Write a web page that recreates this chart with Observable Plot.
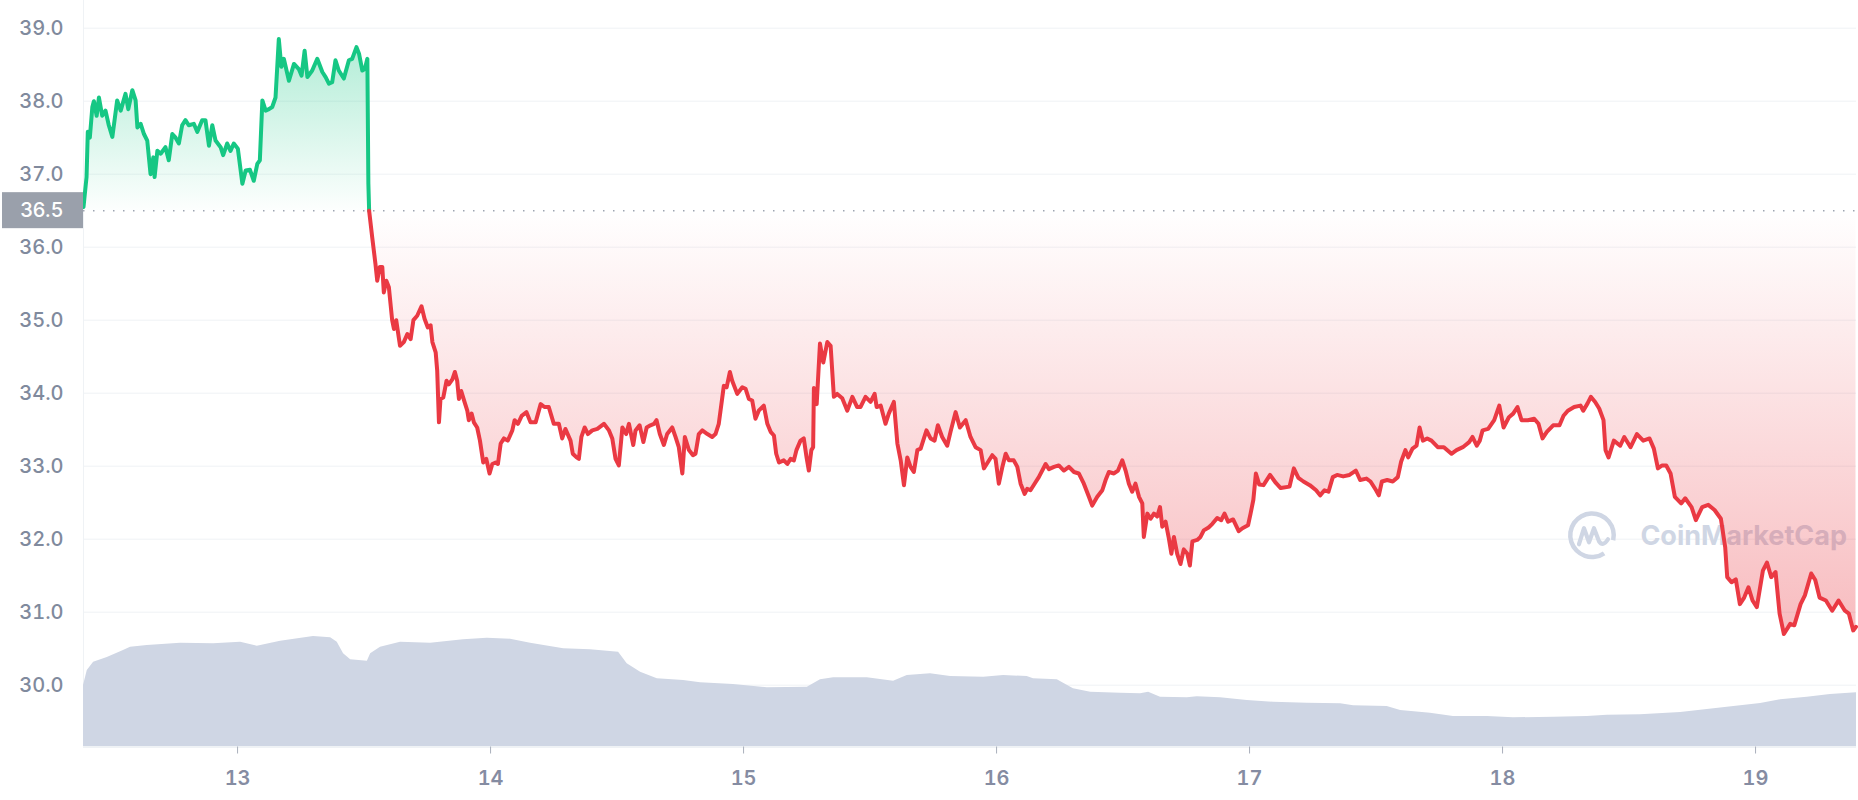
<!DOCTYPE html>
<html><head><meta charset="utf-8">
<script src="https://cdn.jsdelivr.net/npm/d3@7"></script>
<script src="https://cdn.jsdelivr.net/npm/@observablehq/plot@0.6"></script>
<style>
html,body{margin:0;padding:0;background:#fff;}
#chart{position:relative;width:1858px;height:800px;overflow:hidden;}
#chart svg{position:absolute;left:0;top:0;}
</style></head><body><div id="chart"></div>
<script>
// [day of month (Jan 2022, fractional), price]
const pricePoints = [
[12.391,36.55],[12.403,36.96],[12.408,37.58],[12.416,37.50],[12.426,37.92],[12.432,38.00],[12.443,37.80],[12.452,38.05],[12.465,37.80],[12.478,37.87],[12.491,37.67],[12.505,37.51],[12.524,38.01],[12.538,37.87],[12.557,38.10],[12.568,37.89],[12.584,38.15],[12.597,38.01],[12.604,37.64],[12.617,37.69],[12.630,37.55],[12.643,37.46],[12.656,37.00],[12.667,37.23],[12.672,36.96],[12.683,37.32],[12.696,37.28],[12.715,37.37],[12.728,37.19],[12.742,37.55],[12.755,37.50],[12.768,37.42],[12.781,37.67],[12.794,37.74],[12.807,37.67],[12.827,37.69],[12.841,37.58],[12.860,37.74],[12.873,37.74],[12.887,37.39],[12.900,37.67],[12.913,37.46],[12.933,37.37],[12.943,37.26],[12.959,37.42],[12.972,37.32],[12.985,37.42],[13.001,37.35],[13.019,36.87],[13.032,37.05],[13.049,37.06],[13.064,36.91],[13.078,37.14],[13.088,37.19],[13.098,38.01],[13.111,37.87],[13.124,37.89],[13.137,37.92],[13.150,38.05],[13.163,38.85],[13.173,38.47],[13.183,38.58],[13.203,38.28],[13.223,38.51],[13.242,38.44],[13.253,38.35],[13.265,38.69],[13.276,38.33],[13.295,38.42],[13.315,38.58],[13.335,38.40],[13.348,38.33],[13.361,38.24],[13.374,38.26],[13.387,38.56],[13.400,38.42],[13.420,38.31],[13.440,38.56],[13.453,38.58],[13.470,38.74],[13.480,38.65],[13.493,38.42],[13.503,38.44],[13.513,38.58],[13.517,36.87],[13.520,36.50],
[13.532,36.14],[13.545,35.77],[13.552,35.54],[13.562,35.73],[13.572,35.73],[13.578,35.38],[13.588,35.54],[13.598,35.45],[13.611,35.00],[13.618,34.88],[13.627,35.00],[13.642,34.65],[13.657,34.70],[13.671,34.81],[13.684,34.74],[13.695,35.00],[13.710,35.06],[13.727,35.19],[13.739,35.02],[13.752,34.90],[13.763,34.93],[13.770,34.70],[13.783,34.56],[13.789,34.31],[13.796,33.60],[13.802,33.92],[13.813,33.94],[13.826,34.17],[13.835,34.12],[13.849,34.19],[13.859,34.29],[13.868,34.17],[13.875,33.92],[13.884,34.03],[13.897,33.88],[13.908,33.76],[13.914,33.63],[13.925,33.72],[13.934,33.60],[13.947,33.53],[13.958,33.35],[13.971,33.05],[13.983,33.10],[13.996,32.90],[14.007,33.03],[14.020,33.05],[14.029,33.03],[14.040,33.31],[14.053,33.38],[14.068,33.35],[14.086,33.49],[14.095,33.63],[14.108,33.58],[14.123,33.69],[14.142,33.74],[14.158,33.60],[14.178,33.60],[14.198,33.85],[14.213,33.81],[14.230,33.81],[14.250,33.58],[14.270,33.58],[14.283,33.38],[14.296,33.51],[14.316,33.35],[14.325,33.17],[14.340,33.12],[14.349,33.10],[14.359,33.40],[14.372,33.53],[14.385,33.44],[14.402,33.49],[14.422,33.51],[14.448,33.58],[14.468,33.49],[14.481,33.38],[14.494,33.10],[14.507,33.01],[14.521,33.53],[14.536,33.44],[14.547,33.58],[14.564,33.29],[14.573,33.49],[14.589,33.56],[14.604,33.33],[14.617,33.53],[14.632,33.56],[14.646,33.58],[14.656,33.63],[14.669,33.44],[14.685,33.29],[14.698,33.44],[14.718,33.53],[14.731,33.40],[14.744,33.26],[14.758,32.90],[14.768,33.40],[14.784,33.22],[14.800,33.15],[14.810,33.17],[14.823,33.44],[14.837,33.49],[14.857,33.44],[14.876,33.40],[14.889,33.44],[14.902,33.58],[14.922,34.10],[14.933,34.08],[14.946,34.29],[14.955,34.17],[14.975,33.99],[14.995,34.08],[15.008,34.06],[15.021,33.92],[15.034,33.90],[15.047,33.65],[15.060,33.76],[15.080,33.83],[15.094,33.58],[15.107,33.47],[15.120,33.42],[15.129,33.17],[15.140,33.05],[15.159,33.08],[15.173,33.03],[15.186,33.10],[15.199,33.08],[15.209,33.22],[15.225,33.35],[15.238,33.38],[15.249,33.12],[15.258,32.94],[15.268,33.22],[15.275,33.26],[15.278,34.07],[15.289,33.85],[15.302,34.68],[15.315,34.42],[15.331,34.70],[15.344,34.65],[15.357,33.95],[15.370,33.99],[15.390,33.93],[15.410,33.76],[15.430,33.95],[15.449,33.81],[15.462,33.81],[15.482,33.95],[15.502,33.88],[15.518,33.99],[15.526,33.81],[15.542,33.83],[15.561,33.58],[15.574,33.72],[15.594,33.88],[15.608,33.31],[15.621,33.08],[15.634,32.74],[15.647,33.12],[15.660,32.99],[15.673,32.92],[15.687,33.22],[15.700,33.24],[15.710,33.35],[15.723,33.49],[15.739,33.38],[15.755,33.35],[15.768,33.56],[15.785,33.40],[15.805,33.28],[15.818,33.47],[15.838,33.74],[15.855,33.53],[15.878,33.63],[15.897,33.40],[15.917,33.26],[15.937,33.22],[15.950,32.97],[15.963,33.04],[15.983,33.15],[15.996,33.10],[16.009,32.76],[16.023,32.99],[16.036,33.17],[16.049,33.08],[16.068,33.08],[16.082,32.99],[16.095,32.76],[16.111,32.62],[16.121,32.69],[16.134,32.67],[16.154,32.78],[16.167,32.85],[16.194,33.03],[16.207,32.96],[16.227,32.99],[16.246,33.01],[16.266,32.94],[16.286,32.99],[16.306,32.92],[16.325,32.90],[16.345,32.76],[16.365,32.58],[16.378,32.46],[16.398,32.58],[16.418,32.67],[16.431,32.81],[16.444,32.92],[16.464,32.90],[16.480,32.94],[16.497,33.08],[16.510,32.94],[16.523,32.76],[16.536,32.65],[16.549,32.76],[16.563,32.58],[16.576,32.49],[16.582,32.03],[16.596,32.35],[16.609,32.28],[16.622,32.35],[16.635,32.31],[16.646,32.44],[16.655,32.17],[16.668,32.24],[16.681,32.01],[16.691,31.80],[16.701,32.03],[16.714,31.80],[16.727,31.66],[16.740,31.86],[16.754,31.80],[16.764,31.64],[16.774,31.97],[16.793,31.99],[16.806,32.03],[16.819,32.12],[16.838,32.16],[16.853,32.21],[16.872,32.29],[16.888,32.26],[16.901,32.35],[16.915,32.24],[16.935,32.27],[16.957,32.11],[16.972,32.15],[16.994,32.19],[17.004,32.35],[17.015,32.54],[17.025,32.90],[17.038,32.75],[17.055,32.74],[17.081,32.88],[17.104,32.77],[17.123,32.70],[17.158,32.72],[17.175,32.97],[17.193,32.84],[17.213,32.79],[17.238,32.74],[17.263,32.67],[17.279,32.60],[17.296,32.67],[17.312,32.65],[17.329,32.85],[17.346,32.88],[17.370,32.86],[17.395,32.88],[17.420,32.94],[17.437,32.81],[17.462,32.83],[17.478,32.79],[17.500,32.67],[17.511,32.60],[17.523,32.79],[17.544,32.81],[17.566,32.79],[17.586,32.85],[17.599,33.06],[17.616,33.22],[17.627,33.12],[17.644,33.24],[17.660,33.28],[17.672,33.53],[17.685,33.35],[17.702,33.38],[17.719,33.35],[17.744,33.26],[17.768,33.26],[17.798,33.17],[17.818,33.22],[17.843,33.26],[17.868,33.33],[17.881,33.40],[17.898,33.28],[17.910,33.35],[17.921,33.49],[17.943,33.51],[17.967,33.63],[17.987,33.83],[18.004,33.53],[18.025,33.67],[18.042,33.72],[18.059,33.81],[18.075,33.63],[18.100,33.63],[18.125,33.65],[18.142,33.58],[18.158,33.38],[18.175,33.47],[18.200,33.56],[18.225,33.56],[18.241,33.69],[18.258,33.76],[18.283,33.81],[18.308,33.83],[18.319,33.76],[18.336,33.86],[18.349,33.95],[18.366,33.88],[18.382,33.79],[18.399,33.63],[18.407,33.22],[18.419,33.12],[18.440,33.35],[18.465,33.28],[18.481,33.40],[18.506,33.26],[18.531,33.44],[18.556,33.35],[18.581,33.38],[18.598,33.24],[18.614,32.97],[18.631,33.01],[18.647,33.01],[18.664,32.90],[18.681,32.58],[18.706,32.49],[18.722,32.56],[18.747,32.44],[18.764,32.26],[18.789,32.44],[18.813,32.47],[18.838,32.40],[18.863,32.28],[18.880,31.89],[18.888,31.48],[18.905,31.41],[18.922,31.45],[18.938,31.11],[18.955,31.20],[18.972,31.34],[18.988,31.16],[19.005,31.07],[19.029,31.57],[19.045,31.68],[19.062,31.48],[19.079,31.55],[19.095,30.98],[19.112,30.70],[19.137,30.84],[19.153,30.82],[19.178,31.11],[19.195,31.23],[19.220,31.53],[19.236,31.44],[19.253,31.20],[19.278,31.16],[19.303,31.02],[19.328,31.16],[19.353,31.02],[19.369,30.98],[19.386,30.75],[19.397,30.80]
];
// [day of month, 24h volume in $M]
const volumePoints = [
[12.391,615],[12.406,765],[12.431,848],[12.485,895],[12.549,965],[12.577,998],[12.643,1015],[12.775,1038],[12.905,1032],[13.012,1048],[13.078,1008],[13.170,1058],[13.300,1105],[13.368,1092],[13.394,1048],[13.419,932],[13.447,872],[13.513,858],[13.526,932],[13.565,998],[13.644,1048],[13.763,1038],[13.893,1072],[13.987,1088],[14.079,1078],[14.158,1038],[14.289,982],[14.395,972],[14.506,948],[14.540,832],[14.593,748],[14.659,682],[14.763,665],[14.830,642],[14.960,625],[15.094,592],[15.252,598],[15.304,672],[15.356,692],[15.489,692],[15.593,658],[15.647,715],[15.739,732],[15.818,705],[15.949,698],[16.028,715],[16.121,705],[16.146,682],[16.240,672],[16.304,582],[16.372,548],[16.490,538],[16.569,532],[16.601,548],[16.648,498],[16.754,492],[16.793,502],[16.885,492],[16.991,465],[17.095,448],[17.228,438],[17.360,432],[17.411,412],[17.544,405],[17.597,365],[17.715,338],[17.806,305],[17.940,305],[18.043,292],[18.202,298],[18.335,305],[18.414,318],[18.545,322],[18.704,345],[18.888,398],[19.020,435],[19.099,472],[19.204,498],[19.296,525],[19.399,542]
];
const yTicks = [30, 31, 32, 33, 34, 35, 36, 37, 38, 39];
const xTickDays = [13, 14, 15, 16, 17, 18, 19];
const baselinePrice = 36.5;
const xDomainDays = [12.391, 19.399];
const priceDomain = [29.153, 39.379];
const volumeDomain = [0, 7465];

const W = 1858, H = 800, mL = 83, mR = 2, mT = 0, mB = 53.5;
const FONT = "Inter, 'Noto Sans', sans-serif";
const toDate = d => new Date(Date.UTC(2022, 0, 1) + (d - 1) * 864e5);
const xDomain = xDomainDays.map(toDate);
const xTicks = xTickDays.map(toDate);

const prices = pricePoints.map(([d, p]) => ({date: toDate(d), price: p}));
const volumes = volumePoints.map(([d, v]) => ({date: toDate(d), vol: v}));
const splitIdx = prices.findIndex(d => d.price <= baselinePrice);
const greenData = prices.slice(0, splitIdx + 1);
const redData = prices.slice(splitIdx);

const common = {width: W, height: H, marginLeft: mL, marginRight: mR, marginTop: mT, marginBottom: mB,
  style: {background: "transparent", fontFamily: FONT, overflow: "visible"}};

function yOf(scales, v) {
  return typeof scales.y === "function" ? scales.y(v) : scales.scale("y").apply(v);
}

function watermark(index, scales, values, dims) {
  const c = "#cfd6e4";
  const g = d3.create("svg:g");
  const right = dims.width - dims.marginRight;
  const cy = dims.marginTop + (dims.height - dims.marginTop - dims.marginBottom) * 0.717;
  const lx = right - 264;
  g.append("path")
    .attr("d", d3.arc()({innerRadius: 19.5, outerRadius: 24, startAngle: 2.55, endAngle: 2.55 + 2 * Math.PI - 0.75}))
    .attr("transform", `translate(${lx},${cy})`).attr("fill", c);
  g.append("path")
    .attr("d", "M-13,9 L-8,-7 L-3,7 L2,-7 L7,6 Q11,12 16,4")
    .attr("transform", `translate(${lx},${cy})`)
    .attr("fill", "none").attr("stroke", c).attr("stroke-width", 4.2)
    .attr("stroke-linejoin", "round").attr("stroke-linecap", "round");
  g.append("text").attr("x", right - 9).attr("y", cy + 10)
    .attr("text-anchor", "end").attr("font-size", 27).attr("font-weight", 700)
    .attr("font-family", FONT).attr("fill", c).text("CoinMarketCap");
  return g.node();
}

function gradients() {
  const defs = d3.create("svg:defs");
  const g1 = defs.append("linearGradient").attr("id", "cmcGreen").attr("x1", 0).attr("y1", 0).attr("x2", 0).attr("y2", 1);
  g1.append("stop").attr("offset", 0).attr("stop-color", "#16c784").attr("stop-opacity", 0.34);
  g1.append("stop").attr("offset", 1).attr("stop-color", "#16c784").attr("stop-opacity", 0.01);
  const g2 = defs.append("linearGradient").attr("id", "cmcRed").attr("x1", 0).attr("y1", 0).attr("x2", 0).attr("y2", 1);
  g2.append("stop").attr("offset", 0).attr("stop-color", "#ea3943").attr("stop-opacity", 0.0);
  g2.append("stop").attr("offset", 1).attr("stop-color", "#ea3943").attr("stop-opacity", 0.34);
  return defs.node();
}

function badge(index, scales, values, dims) {
  const y = yOf(scales, baselinePrice);
  const g = d3.create("svg:g");
  g.append("rect").attr("x", 2).attr("y", y - 18).attr("width", dims.marginLeft - 2).attr("height", 36).attr("fill", "#9aa0ab");
  g.append("text").attr("x", dims.marginLeft - 20).attr("y", y).attr("dy", "0.35em")
    .attr("text-anchor", "end").attr("fill", "#ffffff").attr("font-size", 20).attr("font-weight", 500)
    .attr("font-family", FONT).text(d3.format(".1f")(baselinePrice));
  return g.node();
}

// Layer A: grid + watermark
const layerA = Plot.plot({...common,
  x: {type: "utc", domain: xDomain, axis: null},
  y: {domain: priceDomain, axis: null},
  marks: [
    Plot.ruleY(yTicks, {stroke: "#eff2f5", strokeWidth: 1}),
    Plot.ruleX([xDomain[0]], {stroke: "#eff2f5", strokeWidth: 1}),
    watermark
  ]
});

// Layer B: volume + x axis
const layerB = Plot.plot({...common,
  x: {type: "utc", domain: xDomain},
  y: {domain: volumeDomain, axis: null},
  marks: [
    Plot.areaY(volumes, {x: "date", y: "vol", fill: "#cfd6e4"}),
    Plot.ruleY([0], {stroke: "#eff2f5", strokeWidth: 2}),
    Plot.axisX({ticks: xTicks, tickFormat: d3.utcFormat("%-d"), tickSize: 7, tickPadding: 16.5, label: null,
      stroke: "#a9afbb", fill: "#858ca2", fontSize: 20, fontWeight: 600})
  ]
});

// Layer C: price
const layerC = Plot.plot({...common,
  x: {type: "utc", domain: xDomain, axis: null},
  y: {domain: priceDomain},
  marks: [
    gradients,
    Plot.areaY(greenData, {x: "date", y1: () => baselinePrice, y2: "price", fill: "url(#cmcGreen)"}),
    Plot.areaY(redData, {x: "date", y1: () => baselinePrice, y2: "price", fill: "url(#cmcRed)"}),
    Plot.ruleY([baselinePrice], {stroke: "#9ea5b1", strokeWidth: 1.5, strokeDasharray: "1.5,8.5"}),
    Plot.line(greenData, {x: "date", y: "price", stroke: "#16c784", strokeWidth: 4, strokeLinejoin: "round", strokeLinecap: "round"}),
    Plot.line(redData, {x: "date", y: "price", stroke: "#ea3943", strokeWidth: 4, strokeLinejoin: "round", strokeLinecap: "round"}),
    Plot.axisY({ticks: yTicks, tickFormat: d3.format(".1f"), tickSize: 0, tickPadding: 20, label: null, fontSize: 20, fontWeight: 500, fill: "#808a9d"}),
    badge
  ]
});

const chart = document.getElementById("chart");
chart.append(layerA, layerB, layerC);
</script>
</body></html>
